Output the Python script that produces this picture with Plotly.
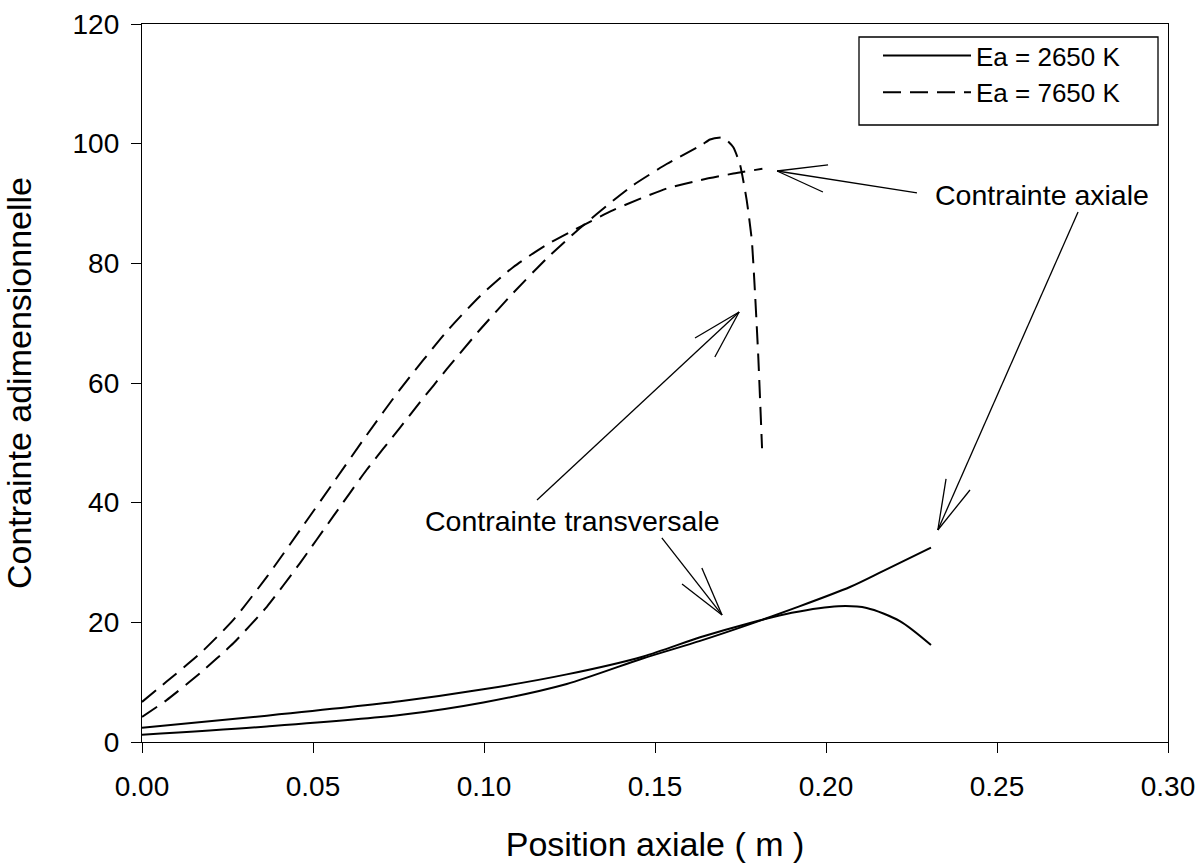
import plotly.graph_objects as go

# ---------------- data ----------------
# Ea = 2650 K, axial stress (solid)
x_ax_2650 = [0.0, 0.0365, 0.0754, 0.0998, 0.1242, 0.1466, 0.1632, 0.1778, 0.19, 0.207, 0.2168, 0.2307]
y_ax_2650 = [1.2, 2.6, 4.5, 6.6, 9.7, 14.0, 16.9, 19.7, 22.2, 25.9, 28.6, 32.5]

# Ea = 2650 K, transversal stress (solid)
x_tr_2650 = [0.0, 0.0365, 0.0754, 0.0998, 0.1242, 0.1466, 0.1632, 0.1778, 0.19, 0.2036, 0.2119, 0.2216, 0.2307]
y_tr_2650 = [2.4, 4.4, 6.8, 8.8, 11.3, 14.3, 17.5, 19.9, 21.6, 22.7, 22.4, 20.2, 16.2]

# Ea = 7650 K, axial stress (dashed)
x_ax_7650 = [0.0, 0.0072, 0.017, 0.0267, 0.0365, 0.0462, 0.0559, 0.0657, 0.0754, 0.0891,
             0.0988, 0.1086, 0.1183, 0.1281, 0.1378, 0.1534, 0.1632, 0.1729, 0.1814]
y_ax_7650 = [6.7, 10.1, 14.8, 20.4, 27.6, 35.4, 43.3, 51.3, 58.9, 68.6,
             74.5, 79.4, 83.1, 86.1, 88.9, 92.5, 93.9, 95.0, 95.8]

# Ea = 7650 K, transversal stress (dashed)
x_tr_7650 = [0.0, 0.0072, 0.017, 0.0267, 0.0365, 0.0462, 0.0559, 0.0657, 0.0754, 0.0813,
             0.0891, 0.0988, 0.1086, 0.1183, 0.1281, 0.1378, 0.1437, 0.1534, 0.1637, 0.1661,
             0.170, 0.1729, 0.1749, 0.1768, 0.1783, 0.1792, 0.1802, 0.1813]
y_tr_7650 = [4.2, 7.0, 11.5, 16.5, 22.6, 29.9, 37.7, 45.5, 52.5, 56.8,
             62.3, 68.9, 75.1, 80.8, 85.9, 90.5, 93.1, 96.6, 99.8, 100.7,
             101.0, 99.4, 96.4, 90.6, 83.9, 75.5, 64.4, 49.1]

legend_labels = ["Ea = 2650 K", "Ea = 7650 K"]
x_ticks = [0.0, 0.05, 0.10, 0.15, 0.20, 0.25, 0.30]
y_ticks = [0, 20, 40, 60, 80, 100, 120]

# annotation texts and arrows (tail, tip, head-end 1, head-end 2) in data units
label_axial = "Contrainte axiale"
label_transv = "Contrainte transversale"
arrows = [
    [(0.2266, 91.76), (0.1857, 95.43), (0.2006, 96.44), (0.1991, 91.92)],
    [(0.2737, 88.58), (0.2327, 35.43), (0.2351, 43.96), (0.2421, 42.12)],
    [(0.1520, 34.10), (0.1696, 21.23), (0.1579, 26.41), (0.1637, 29.08)],
    [(0.1155, 40.45), (0.1746, 71.87), (0.1617, 67.52), (0.1675, 64.35)],
]

# ---------------- figure ----------------
FONT = "Liberation Sans, Arial, sans-serif"
fig = go.Figure()

DASH = "18px,9px"
series = [
    (x_ax_2650, y_ax_2650, legend_labels[0], "solid", True, "g1", 0.8),
    (x_tr_2650, y_tr_2650, legend_labels[0], "solid", False, "g1", 0.8),
    (x_ax_7650, y_ax_7650, legend_labels[1], DASH, True, "g2", 0.6),
    (x_tr_7650, y_tr_7650, legend_labels[1], DASH, False, "g2", 0.5),
]
for xs, ys, name, dash, show, grp, sm in series:
    fig.add_trace(go.Scatter(
        x=xs, y=ys, mode="lines", name=name, legendgroup=grp, showlegend=show,
        line=dict(color="black", width=2, dash=dash, shape="spline", smoothing=sm),
        hoverinfo="skip",
    ))

shapes = []
for tail, tip, h1, h2 in arrows:
    for a, b in [(tail, tip), (tip, h1), (tip, h2)]:
        shapes.append(dict(type="line", xref="x", yref="y",
                           x0=a[0], y0=a[1], x1=b[0], y1=b[1],
                           line=dict(color="black", width=1.3)))

# legend frame (px 859..1158 x 37..125, plot area 142..1168 x 24..742)
shapes.append(dict(type="rect", xref="paper", yref="paper",
                   x0=(859 - 142) / 1026, x1=(1158 - 142) / 1026,
                   y0=(742 - 125) / 718, y1=(742 - 37) / 718,
                   line=dict(color="black", width=1.3), fillcolor="rgba(0,0,0,0)"))

annotations = [
    dict(x=0.2313, y=91.4, xref="x", yref="y", text=label_axial, showarrow=False,
         xanchor="left", yanchor="middle", font=dict(family=FONT, size=28.5, color="black")),
    dict(x=0.0822, y=36.9, xref="x", yref="y", text=label_transv, showarrow=False,
         xanchor="left", yanchor="middle", font=dict(family=FONT, size=28.5, color="black")),
]

fig.update_layout(
    width=1199, height=863,
    margin=dict(l=142, r=31, t=24, b=121, autoexpand=False),
    paper_bgcolor="white", plot_bgcolor="white",
    font=dict(family=FONT, size=28, color="black"),
    shapes=shapes, annotations=annotations,
    showlegend=True,
    legend=dict(x=(878 - 142) / 1026, y=(742 - 32) / 718, xanchor="left", yanchor="top",
                bgcolor="rgba(0,0,0,0)", borderwidth=0, itemwidth=88,
                font=dict(family=FONT, size=26, color="black"), tracegroupgap=0),
)

fig.update_xaxes(
    range=[0, 0.3], tickvals=x_ticks, ticktext=[f"{v:.2f}" for v in x_ticks],
    ticks="outside", ticklen=10, tickwidth=1.3, tickcolor="black",
    showline=True, linecolor="black", linewidth=1.3, mirror=True,
    showgrid=False, zeroline=False, ticklabelstandoff=9, automargin=False,
    tickfont=dict(family=FONT, size=28, color="black"),
    title=dict(text="Position axiale ( m )", font=dict(family=FONT, size=34, color="black"), standoff=35),
)
fig.update_yaxes(
    range=[0, 120], tickvals=y_ticks,
    ticks="outside", ticklen=10, tickwidth=1.3, tickcolor="black",
    showline=True, linecolor="black", linewidth=1.3, mirror=True,
    showgrid=False, zeroline=False, ticklabelstandoff=6, automargin=False,
    tickfont=dict(family=FONT, size=28, color="black"),
    title=dict(text="Contrainte adimensionnelle", font=dict(family=FONT, size=34, color="black"), standoff=32),
)

# remove the default page margin so the figure sits at the window's top-left corner
fig.write_html(
    "out.html",
    config={"displayModeBar": False},
    post_script="document.body.style.margin='0';document.body.style.overflow='hidden';",
)
